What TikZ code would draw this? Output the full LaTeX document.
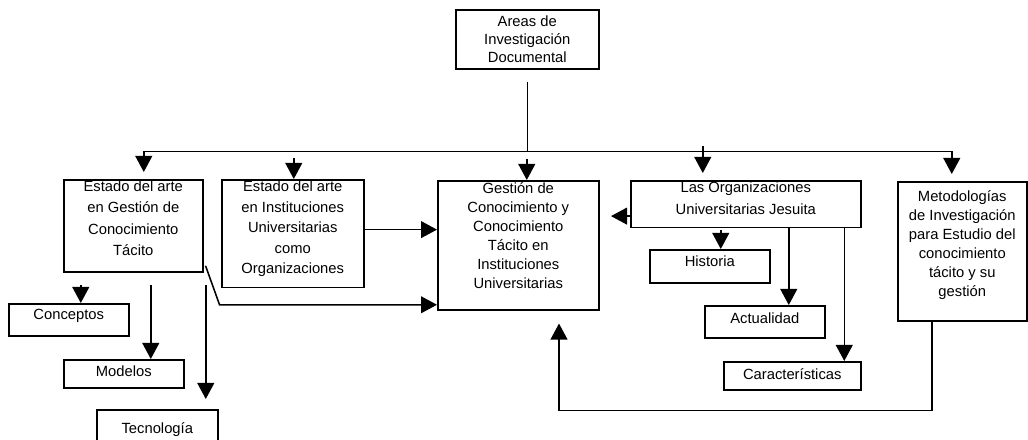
\documentclass[tikz,border=0pt]{standalone}
\usepackage{fontspec}
\setmainfont{Liberation Sans}
\usetikzlibrary{arrows.meta,calc}

\begin{document}
\begin{tikzpicture}[x=0.25mm, y=-0.25mm, line width=1.1pt,
    box/.style={rectangle, draw, anchor=north west, align=center, inner sep=1pt, font=\fontsize{10.5}{13.5}\selectfont},
    feed/.style={->, shorten >=1.75mm},
    >={Triangle[length=4mm,width=4.2mm]}]

                \useasboundingbox (0,0) rectangle (1028,440);

                \node[box, minimum width=35.75mm, minimum height=14.75mm, font=\fontsize{10.5}{12.8}\selectfont] (areas) at (455,9) {Areas de\\Investigación\\Documental};

                \node[box, minimum width=34.75mm, minimum height=22.75mm, text depth=11pt, font=\fontsize{10.5}{15}\selectfont] (gct) at (63,179) {Estado del arte\\en Gestión de\\Conocimiento\\Tácito};
                \node[box, minimum width=35.5mm, minimum height=26.5mm, text depth=9pt, font=\fontsize{10.5}{14.5}\selectfont] (inst) at (221,179) {Estado del arte\\en Instituciones\\Universitarias\\como\\Organizaciones};
                \node[box, minimum width=40.25mm, minimum height=32.25mm, text depth=14pt, font=\fontsize{10.5}{13.6}\selectfont] (gestion) at (437,180) {Gestión de\\Conocimiento y\\Conocimiento\\Tácito en\\Instituciones\\Universitarias};
                \node[box, minimum width=57.5mm, minimum height=11.5mm, text depth=8pt, font=\fontsize{10.5}{15.6}\selectfont] (jes) at (630,180) {Las Organizaciones\\Universitarias Jesuita};
                \node[box, minimum width=32.25mm, minimum height=34.75mm, text depth=10.5pt] (metod) at (897,181) {Metodologías\\de Investigación\\para Estudio del\\conocimiento\\tácito y su\\gestión};

                \node[box, minimum width=30mm, minimum height=8.25mm, text depth=7pt] (hist) at (649,249) {Historia};
                \node[box, minimum width=30mm, minimum height=8mm, text depth=5.5pt] (act) at (704,305) {Actualidad};
                \node[box, minimum width=34.25mm, minimum height=7mm, text depth=3pt] (carac) at (723,361) {Características};

                \node[box, minimum width=30mm, minimum height=8mm, text depth=7.5pt] (conc) at (8,303) {Conceptos};
                \node[box, minimum width=30mm, minimum height=7mm, text depth=4pt] (mod) at (63,359) {Modelos};
                \node[box, minimum width=30.25mm, minimum height=10mm] (tec) at (96,409) {Tecnología};


                \coordinate (bus) at ($(areas.south)+(0,82)$);
                \draw[shorten <=3mm] (areas.south) -- (bus);
                \draw[feed] (bus) -| ($(gct.north)+(10.5,0)$);
                \draw[feed] (bus) -| ($(metod.north)+(-10.5,0)$);

                \draw[->] ($(inst.north)+(1,-21)$) -- ($(inst.north)+(1,0)$);
                \draw[->] ($(gestion.north)+(8.5,-21)$) -- ($(gestion.north)+(8.5,0)$);
                \draw[feed] ($(jes.north)+(-43,-34)$) -- ($(jes.north)+(-43,0)$);

                \coordinate (ie) at ($(inst.east)+(0,-4)$);
                \draw[->] (ie) -- (ie -| gestion.west);
                \draw[->] ($(gct.south east)+(2,-7)$) -- ++(14,39) coordinate (gk) -- (gk -| gestion.west);
                \draw[->] ($(jes.west)+(0,12)$) -- ++(-19,0);

                \draw[->] ($(hist.north |- jes.south)+(11,2)$) -- ($(hist.north)+(11,0)$);
                \draw[->] ($(act.north |- jes.south)+(24,0)$) -- ($(act.north)+(24,0)$);
                \draw[->] ($(carac.north |- jes.south)+(52,0)$) -- ($(carac.north)+(52,0)$);

                \draw[->] ($(conc.north |- gct.south)+(12,12)$) -- ($(conc.north)+(12,0)$);
                \draw[->] ($(mod.north |- gct.south)+(27,12)$) -- ($(mod.north)+(27,0)$);
                \draw[->, shorten >=2.5mm] ($(tec.north |- gct.south)+(48.5,12)$) -- ($(tec.north)+(48.5,0)$);

                \draw[->] ($(metod.south west)+(35,0)$) -- ++(0,89) -| ($(gestion.south west)+(122,13)$);


            \end{tikzpicture}
\end{document}
